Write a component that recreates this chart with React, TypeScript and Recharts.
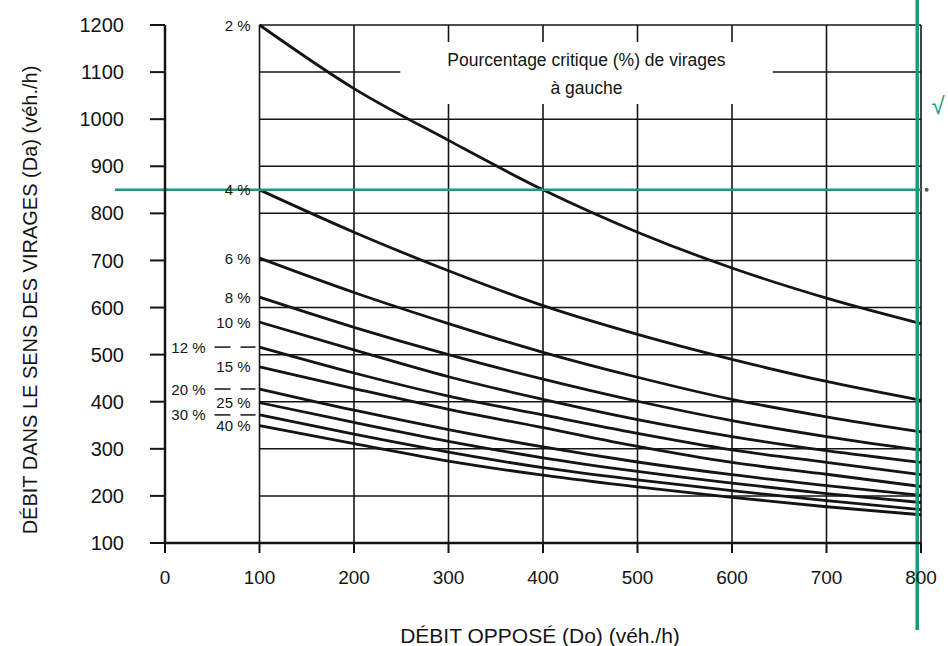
import React from 'react';
import { LineChart, Line, XAxis, YAxis, ReferenceLine, ReferenceDot } from 'recharts';

const FONT = '"Liberation Sans", Arial, Helvetica, sans-serif';
const INK = '#141414';
const GREEN = '#1b9a7f';

const xValues = [100, 200, 300, 400, 500, 600, 700, 800];
const pct2 = [1200, 1065, 955, 850, 760, 684, 620, 566];
const pct4 = [850, 760, 678, 604, 543, 490, 443, 403];
const pct6 = [705, 632, 566, 505, 452, 405, 368, 336];
const pct8 = [622, 558, 500, 448, 401, 360, 326, 297];
const pct10 = [569, 510, 453, 405, 362, 326, 296, 271];
const pct12 = [516, 461, 412, 372, 333, 298, 271, 245];
const pct15 = [474, 428, 384, 345, 305, 271, 246, 220];
const pct20 = [427, 382, 341, 304, 272, 245, 222, 201];
const pct25 = [398, 356, 316, 281, 252, 227, 205, 186];
const pct30 = [372, 331, 293, 260, 234, 211, 190, 171];
const pct40 = [349, 311, 274, 244, 219, 197, 177, 160];

const xTicks = [0, 100, 200, 300, 400, 500, 600, 700, 800];
const yTicks = [100, 200, 300, 400, 500, 600, 700, 800, 900, 1000, 1100, 1200];
const xGridValues = [100, 200, 300, 400, 500, 600, 700, 800];
const yGridValues = [200, 300, 400, 500, 600, 700, 800, 900, 1000, 1100, 1200];

// area of the grid left blank behind the annotation (data units)
const blankX = [249, 643];
const blankY = [1032, 1164];

const xTitle = 'DÉBIT OPPOSÉ (Do) (véh./h)';
const yTitle = 'DÉBIT DANS LE SENS DES VIRAGES (Da) (véh./h)';
const boxLine1 = 'Pourcentage critique (%) de virages';
const boxLine2 = 'à gauche';
const markedFlow = 850;
const markedOpposed = 796;

const series = [
  { key: 'p2', label: '2 %', values: pct2, far: false },
  { key: 'p4', label: '4 %', values: pct4, far: false },
  { key: 'p6', label: '6 %', values: pct6, far: false },
  { key: 'p8', label: '8 %', values: pct8, far: false },
  { key: 'p10', label: '10 %', values: pct10, far: false },
  { key: 'p12', label: '12 %', values: pct12, far: true },
  { key: 'p15', label: '15 %', values: pct15, far: false },
  { key: 'p20', label: '20 %', values: pct20, far: true },
  { key: 'p25', label: '25 %', values: pct25, far: false },
  { key: 'p30', label: '30 %', values: pct30, far: true },
  { key: 'p40', label: '40 %', values: pct40, far: false },
];

const rows = xValues.map((x, i) => {
  const r: any = { x };
  series.forEach((s) => {
    r[s.key] = s.values[i];
  });
  return r;
});

// grid segments, with a gap where the annotation sits
const hSegments: any[] = [];
yGridValues.forEach((v) => {
  if (v > blankY[0] && v < blankY[1]) {
    hSegments.push({ id: `h-${v}-a`, seg: [{ x: 100, y: v }, { x: blankX[0], y: v }] });
    hSegments.push({ id: `h-${v}-b`, seg: [{ x: blankX[1], y: v }, { x: 800, y: v }] });
  } else {
    hSegments.push({ id: `h-${v}`, seg: [{ x: 100, y: v }, { x: 800, y: v }] });
  }
});
const vSegments: any[] = [];
xGridValues.forEach((v) => {
  if (v > blankX[0] && v < blankX[1]) {
    vSegments.push({ id: `v-${v}-a`, seg: [{ x: v, y: 100 }, { x: v, y: blankY[0] }] });
    vSegments.push({ id: `v-${v}-b`, seg: [{ x: v, y: blankY[1] }, { x: v, y: 1200 }] });
  } else {
    vSegments.push({ id: `v-${v}`, seg: [{ x: v, y: 100 }, { x: v, y: 1200 }] });
  }
});

const makeDot = (s: any) => (props: any) => {
  const { cx, cy, index } = props;
  const k = `dot-${s.key}-${index}`;
  if (index !== 0 || cx == null || cy == null) return <g key={k} />;
  if (s.far) {
    return (
      <g key={k}>
        <text x={cx - 54} y={cy} textAnchor="end" dominantBaseline="central" fontSize={15} fontFamily={FONT} fill={INK}>
          {s.label}
        </text>
        <line x1={cx - 45} x2={cx - 29} y1={cy} y2={cy} stroke={INK} strokeWidth={1.5} />
        <line x1={cx - 19} x2={cx - 4} y1={cy} y2={cy} stroke={INK} strokeWidth={1.5} />
      </g>
    );
  }
  return (
    <g key={k}>
      <text x={cx - 9} y={cy} textAnchor="end" dominantBaseline="central" fontSize={15} fontFamily={FONT} fill={INK}>
        {s.label}
      </text>
    </g>
  );
};

const annotation = (props: any) => {
  const vb = props.viewBox || {};
  const cx = vb.x;
  const cy = vb.y;
  return (
    <g>
      <text x={cx} y={cy - 14} textAnchor="middle" dominantBaseline="central" fontSize={17.5} fontFamily={FONT} fill={INK}>
        {boxLine1}
      </text>
      <text x={cx} y={cy + 14} textAnchor="middle" dominantBaseline="central" fontSize={17.5} fontFamily={FONT} fill={INK}>
        {boxLine2}
      </text>
    </g>
  );
};

const xTitleLabel = (props: any) => {
  const vb = props.viewBox || {};
  return (
    <text x={vb.x + vb.width / 2 - 3} y={vb.y + 92} textAnchor="middle" dominantBaseline="central" fontSize={21} fontFamily={FONT} fill={INK}>
      {xTitle}
    </text>
  );
};

const yTitleLabel = (props: any) => {
  const vb = props.viewBox || {};
  const x = vb.x + 30;
  const y = vb.y + vb.height / 2 + 16;
  return (
    <text x={x} y={y} textAnchor="middle" dominantBaseline="central" fontSize={20} fontFamily={FONT} fill={INK} transform={`rotate(-90 ${x} ${y})`}>
      {yTitle}
    </text>
  );
};

const checkLabel = (props: any) => {
  const vb = props.viewBox || {};
  return (
    <text x={vb.x} y={vb.y} textAnchor="middle" dominantBaseline="central" fontSize={24} fontFamily={FONT} fill={GREEN}>
      √
    </text>
  );
};

export default function App() {
  return (
    <div style={{ position: 'absolute', left: 0, top: 0, width: 948, height: 646, background: '#ffffff' }}>
      <LineChart width={948} height={646} data={rows} margin={{ top: 25, right: 27, left: 0, bottom: 0 }}>
        <XAxis
          dataKey="x"
          type="number"
          domain={[0, 800]}
          ticks={xTicks}
          height={103}
          tickSize={10}
          tickMargin={18}
          axisLine={{ stroke: INK, strokeWidth: 2.5 }}
          tickLine={{ stroke: INK, strokeWidth: 2 }}
          tick={{ fill: INK, fontSize: 19, fontFamily: FONT }}
          label={{ content: xTitleLabel }}
        />
        <YAxis
          type="number"
          domain={[100, 1200]}
          ticks={yTicks}
          width={165}
          tickSize={15}
          tickMargin={26}
          axisLine={{ stroke: INK, strokeWidth: 2.5 }}
          tickLine={{ stroke: INK, strokeWidth: 2 }}
          tick={{ fill: INK, fontSize: 20, fontFamily: FONT }}
          label={{ content: yTitleLabel }}
        />
        {hSegments.map((g) => (
          <ReferenceLine key={g.id} segment={g.seg} stroke={INK} strokeWidth={1.5} />
        ))}
        {vSegments.map((g) => (
          <ReferenceLine key={g.id} segment={g.seg} stroke={INK} strokeWidth={1.6} />
        ))}
        <ReferenceDot
          x={(blankX[0] + blankX[1]) / 2}
          y={(blankY[0] + blankY[1]) / 2 - 2}
          r={0}
          fill="none"
          stroke="none"
          label={{ content: annotation }}
        />
        {series.map((s) => (
          <Line
            key={s.key}
            dataKey={s.key}
            type="monotone"
            stroke={INK}
            strokeWidth={2.8}
            dot={makeDot(s)}
            activeDot={false}
            isAnimationActive={false}
          />
        ))}
        <ReferenceLine
          segment={[{ x: -53, y: markedFlow }, { x: 800, y: markedFlow }]}
          stroke={GREEN}
          strokeWidth={2.5}
          ifOverflow="visible"
        />
        <ReferenceLine
          segment={[{ x: markedOpposed, y: 1255 }, { x: markedOpposed, y: -85 }]}
          stroke={GREEN}
          strokeWidth={3.5}
          ifOverflow="visible"
        />
        <ReferenceDot x={806} y={markedFlow} r={2} fill="#555" stroke="none" ifOverflow="visible" />
        <ReferenceDot x={818} y={1030} r={0} fill="none" stroke="none" ifOverflow="visible" label={{ content: checkLabel }} />
      </LineChart>
    </div>
  );
}
